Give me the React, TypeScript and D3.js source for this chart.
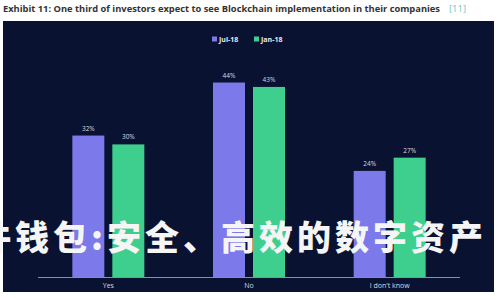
import React from "react";
import * as d3 from "d3";

const categories = ["Yes", "No", "I don't know"];
const seriesNames = ["Jul-18", "Jan-18"];
const jul18 = [32, 44, 24];
const jan18 = [30, 43, 27];
const colors = ["#7c79ea", "#3ecf8e"];
const titleText = "Exhibit 11: One third of investors expect to see Blockchain implementation in their companies";
const refText = "[11]";
const overlayText = "件钱包:安全、高效的数字资产";

export default function App() {
  const W = 500, H = 300;
  const x = d3.scaleBand().domain(categories).range([38, 460]).paddingInner(0).paddingOuter(0);
  const inner = d3.scaleBand().domain(seriesNames).range([0, 72]).paddingInner(0.2);
  const y = d3.scaleLinear().domain([0, 50]).range([277, 56]);
  const values = [jul18, jan18];
  return (
    <svg width={W} height={H} style={{ position: "absolute", left: 0, top: 0, background: "#fff" }}>
      <text x={3} y={12} fontFamily="'Open Sans', sans-serif" fontWeight={700} fontSize={9.2} fill="#333" textLength={437} lengthAdjust="spacingAndGlyphs">{titleText}</text>
      <text x={449} y={12} fontFamily="'Open Sans', sans-serif" fontSize={9.2} fill="#6cc9c0" textLength={17} lengthAdjust="spacingAndGlyphs">{refText}</text>
      <rect x={3} y={21} width={491} height={271} fill="#0a1232" />
      {seriesNames.map((s, i) => {
        const lx = i === 0 ? 212 : 254;
        return (
          <g key={s}>
            <rect x={lx} y={36.5} width={5} height={5} fill={colors[i]} />
            <text x={lx + 7} y={41.5} fontFamily="'Open Sans', sans-serif" fontWeight={700} fontSize={7} fill="#e8e8f0">{s}</text>
          </g>
        );
      })}
      {categories.map((c, ci) => {
        const cx = (x(c) as number) + x.bandwidth() / 2;
        return (
          <g key={c}>
            {seriesNames.map((s, si) => {
              const v = values[si][ci];
              const bx = cx - 36 + (inner(s) as number);
              return (
                <g key={s}>
                  <rect x={bx} y={y(v)} width={inner.bandwidth()} height={y(0) - y(v)} fill={colors[si]} />
                  <text x={bx + inner.bandwidth() / 2} y={y(v) - 5} textAnchor="middle" fontFamily="'Open Sans', sans-serif" fontSize={6.5} fill="#d8d8e0">{v + "%"}</text>
                </g>
              );
            })}
            <text x={cx} y={288} textAnchor="middle" fontFamily="'Open Sans', sans-serif" fontSize={7} fill="#d8d8e0">{c}</text>
          </g>
        );
      })}
      <line x1={38} x2={460} y1={277.5} y2={277.5} stroke="#8a8fa8" strokeWidth={1} />
      <text x={-23} y={250} fontFamily="'Noto Sans CJK SC', sans-serif" fontWeight={900} fontSize={34} fill="#f5f5f5" textLength={506} lengthAdjust="spacing">{overlayText}</text>
    </svg>
  );
}
